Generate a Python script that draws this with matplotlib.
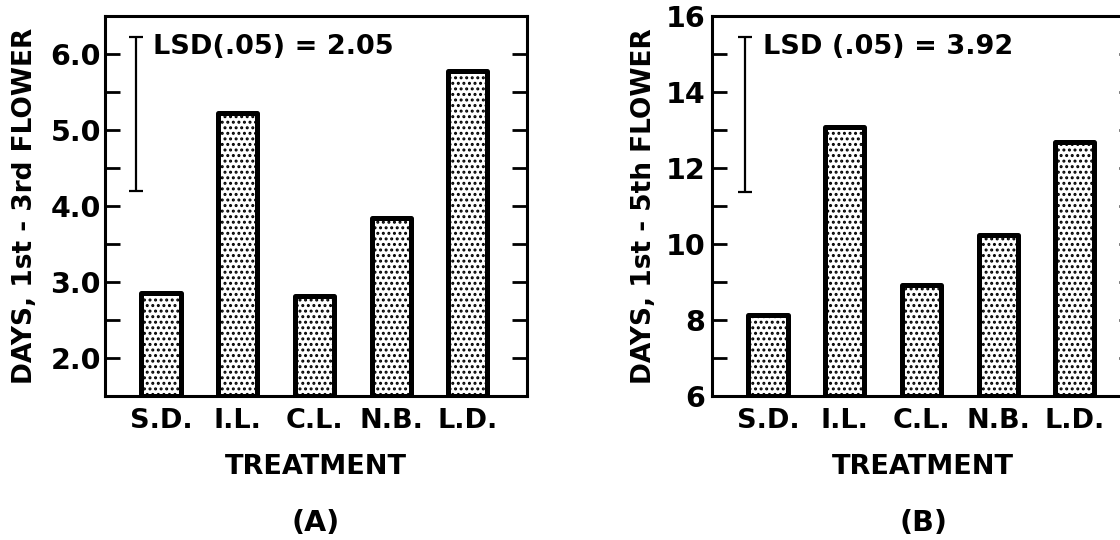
import matplotlib
matplotlib.use("Agg")
import matplotlib.pyplot as plt
import numpy as np

# ---- data ----
categories = ["S.D.", "I.L.", "C.L.", "N.B.", "L.D."]
values_a = [2.85, 5.23, 2.82, 3.84, 5.77]
values_b = [8.14, 13.07, 8.91, 10.25, 12.68]
lsd_a = (4.2, 6.22)     # drawn LSD bar extent, panel A
lsd_b = (11.38, 15.44)  # drawn LSD bar extent, panel B
lsd_text_a = "LSD(.05) = 2.05"
lsd_text_b = "LSD (.05) = 3.92"
ylabel_a = "DAYS, 1st - 3rd FLOWER"
ylabel_b = "DAYS, 1st - 5th FLOWER"
yticks_a = [2.0, 3.0, 4.0, 5.0, 6.0]
yticklabels_a = ["2.0", "3.0", "4.0", "5.0", "6.0"]
yticks_b = [6, 8, 10, 12, 14, 16]
yticklabels_b = ["6", "8", "10", "12", "14", "16"]
xlabel = "TREATMENT"
panel_labels = ["(A)", "(B)"]

plt.rcParams['font.family'] = ['DejaVu Sans']
plt.rcParams['font.weight'] = 'bold'
plt.rcParams['hatch.linewidth'] = 1.4
plt.rcParams['hatch.color'] = 'black'

FS = 19.5
fig = plt.figure(figsize=(11.2, 5.4), dpi=100)

W = 422 / 1120
B = 1 - 396 / 540
H = 380 / 540
ax_a = fig.add_axes([105 / 1120, B, W, H])
ax_b = fig.add_axes([712 / 1120, B, W, H])


def draw(ax, vals, ylim, yticks, yticklabels, minor, lsd, lsd_x, lsd_text, ylabel, plabel, ypad, ylpad):
    x = np.arange(len(categories))
    bars = ax.bar(x, [v - ylim[0] for v in vals], bottom=ylim[0], width=0.51,
                  color="white", edgecolor="black", linewidth=3.6, hatch="...")
    for b in bars:
        b.set_joinstyle("round")
    ax.set_xlim(-0.73, 4.77)
    ax.set_ylim(*ylim)
    ax.set_xticks(x)
    ax.set_xticklabels(categories, fontsize=FS, fontweight='bold')
    ax.tick_params(axis='x', length=0, pad=9)
    ax.set_yticks(yticks)
    ax.set_yticklabels(yticklabels, fontsize=FS + 1, fontweight='bold')
    ax.set_yticks(minor, minor=True)
    ax.tick_params(axis='y', which='both', direction='in', length=11, width=2,
                   right=True, pad=ypad)
    for s in ax.spines.values():
        s.set_linewidth(2.2)
    ax.set_ylabel(ylabel, fontsize=19, fontweight='bold', labelpad=ylpad)
    ax.set_xlabel(xlabel, fontsize=FS, fontweight='bold', labelpad=14)
    mid = (lsd[0] + lsd[1]) / 2
    half = (lsd[1] - lsd[0]) / 2
    ax.errorbar([lsd_x], [mid], yerr=[[half], [half]], fmt='none', ecolor='black',
                elinewidth=1.6, capsize=5, capthick=1.6)
    ax.text(lsd_x + 0.23, 0.918, lsd_text, transform=ax.get_xaxis_transform(),
            fontsize=FS, fontweight='bold', va='center', ha='left')
    ax.text(0.5, -0.335, plabel, transform=ax.transAxes, fontsize=FS + 1,
            fontweight='bold', ha='center', va='center')


draw(ax_a, values_a, (1.5, 6.5), yticks_a, yticklabels_a, np.arange(1.5, 6.6, 0.5),
     lsd_a, -0.33, lsd_text_a, ylabel_a, panel_labels[0], 3, 9)
draw(ax_b, values_b, (6, 16), yticks_b, yticklabels_b, np.arange(6, 16.1, 1),
     lsd_b, -0.30, lsd_text_b, ylabel_b, panel_labels[1], 5, 6)

fig.savefig("out.png", dpi=100)
